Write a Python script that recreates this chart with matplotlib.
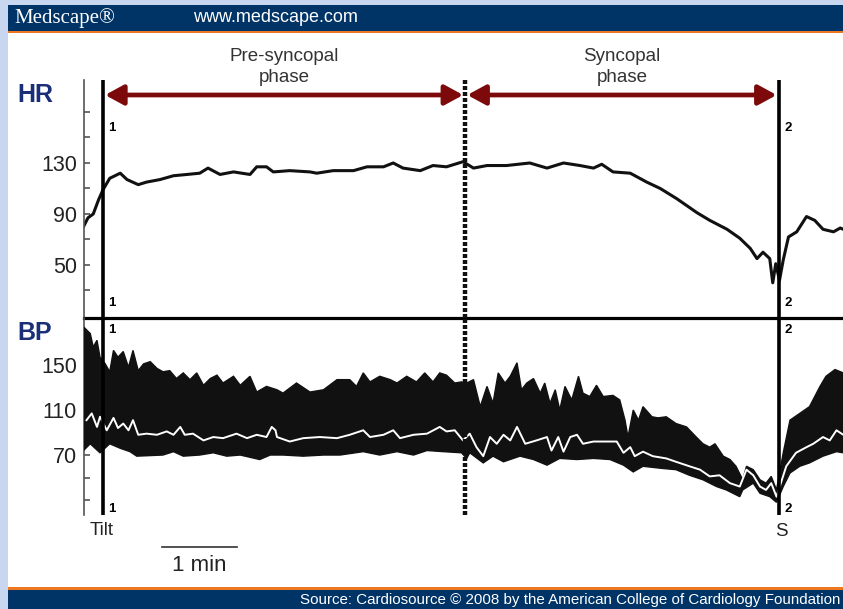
import matplotlib
matplotlib.use('Agg')
import matplotlib.pyplot as plt
import matplotlib.transforms as mtransforms
from matplotlib.patches import Rectangle
import numpy as np

plt.rcParams['font.family'] = ['Liberation Sans', 'DejaVu Sans']

# event times (minutes from tilt)
t_tilt = 0.0
t_phase = 4.83
t_sync = 9.01

# heart rate trace (bpm)
hr_t = [-0.26, -0.20, -0.13, -0.06, 0.00, 0.09, 0.23, 0.32, 0.47, 0.58, 0.76, 0.94, 1.12, 1.29, 1.40,
        1.56, 1.74, 1.96, 2.05, 2.18, 2.27, 2.49, 2.76, 2.85, 3.07, 3.34, 3.52, 3.74, 3.87, 4.00,
        4.23, 4.40, 4.58, 4.80, 4.94, 5.12, 5.38, 5.69, 5.92, 6.14, 6.36, 6.54, 6.65, 6.80, 7.03,
        7.25, 7.43, 7.65, 7.92, 8.09, 8.32, 8.49, 8.63, 8.72, 8.80, 8.89, 8.93, 8.97, 9.02, 9.07,
        9.14, 9.25, 9.38, 9.49, 9.60, 9.74, 9.83, 9.87]
hr_v = [80, 87, 90, 101, 109, 118, 122, 117, 113, 115, 117, 120, 121, 122, 126,
        121, 123, 121, 127, 127, 123, 124, 123, 122, 124, 124, 127, 127, 130, 126,
        124, 128, 127, 131, 126, 128, 128, 130, 126, 130, 128, 126, 129, 123, 122,
        115, 110, 102, 91, 85, 78, 71, 63, 55, 60, 55, 36, 51, 38, 54,
        72, 76, 88, 85, 78, 76, 79, 78]

# blood pressure: systolic envelope (top of black band)
sys_t = [-0.26, -0.17, -0.13, -0.08, -0.04, 0.03, 0.09, 0.14, 0.20, 0.27, 0.34, 0.40, 0.47, 0.54, 0.63,
         0.72, 0.80, 0.89, 0.98, 1.07, 1.16, 1.25, 1.34, 1.43, 1.52, 1.60, 1.74, 1.83, 1.96, 2.05,
         2.18, 2.32, 2.40, 2.58, 2.76, 2.94, 3.12, 3.29, 3.38, 3.47, 3.56, 3.69, 3.83, 3.92, 4.05,
         4.18, 4.29, 4.40, 4.49, 4.58, 4.69, 4.78, 4.85, 4.94, 5.03, 5.12, 5.20, 5.27, 5.36, 5.43,
         5.52, 5.58, 5.65, 5.74, 5.83, 5.89, 5.96, 6.03, 6.09, 6.16, 6.25, 6.34, 6.40, 6.49, 6.58,
         6.67, 6.80, 6.89, 6.96, 7.00, 7.07, 7.14, 7.20, 7.32, 7.40, 7.51, 7.64, 7.78, 7.91, 8.00,
         8.09, 8.16, 8.27, 8.36, 8.44, 8.53, 8.58, 8.67, 8.76, 8.84, 8.91, 8.98, 9.07, 9.16, 9.29,
         9.42, 9.56, 9.64, 9.76, 9.87]
sys_v = [184, 178, 166, 172, 157, 151, 144, 163, 157, 162, 148, 163, 145, 151, 153,
         147, 144, 145, 138, 143, 137, 143, 132, 138, 141, 134, 140, 132, 140, 126,
         131, 128, 125, 134, 126, 128, 137, 137, 131, 143, 135, 140, 137, 134, 140,
         135, 143, 135, 143, 141, 134, 135, 134, 137, 113, 131, 116, 143, 134, 140,
         152, 128, 134, 138, 125, 134, 116, 128, 110, 131, 119, 140, 125, 122, 132,
         122, 123, 119, 101, 86, 110, 101, 113, 104, 103, 104, 98, 95, 86, 80,
         77, 80, 69, 66, 60, 48, 60, 57, 48, 45, 51, 39, 72, 101, 107,
         113, 131, 140, 146, 143]

# diastolic envelope (bottom of black band)
dia_t = [-0.26, -0.17, -0.04, 0.09, 0.23, 0.36, 0.45, 0.80, 0.94, 1.07, 1.29, 1.47, 1.65, 1.83, 2.09,
         2.23, 2.40, 2.67, 2.94, 3.16, 3.47, 3.69, 3.92, 4.14, 4.32, 4.54, 4.78, 4.85, 4.89, 5.07,
         5.20, 5.34, 5.56, 5.74, 5.92, 6.09, 6.32, 6.54, 6.76, 6.94, 7.07, 7.20, 7.47, 7.64, 7.82,
         8.00, 8.18, 8.31, 8.49, 8.53, 8.67, 8.76, 8.89, 8.98, 9.07, 9.16, 9.29, 9.42, 9.60, 9.78,
         9.87]
dia_v = [74, 80, 72, 80, 76, 73, 69, 70, 73, 69, 70, 72, 69, 70, 66,
         70, 70, 69, 70, 70, 73, 70, 73, 70, 74, 73, 72, 67, 72, 63,
         69, 64, 69, 66, 61, 67, 66, 67, 66, 61, 55, 60, 58, 57, 52,
         48, 42, 39, 33, 39, 45, 36, 33, 28, 42, 54, 60, 63, 69, 73,
         72]

# mean pressure (white line)
mean_t = [-0.22, -0.15, -0.08, -0.04, 0.05, 0.14, 0.20, 0.27, 0.34, 0.40, 0.47, 0.58, 0.72, 0.85, 0.94,
          1.03, 1.09, 1.20, 1.34, 1.47, 1.60, 1.78, 1.92, 2.05, 2.18, 2.25, 2.30, 2.32, 2.49, 2.67,
          2.89, 3.12, 3.29, 3.47, 3.56, 3.74, 3.87, 3.96, 4.14, 4.32, 4.49, 4.58, 4.69, 4.80, 4.89,
          4.98, 5.07, 5.16, 5.25, 5.34, 5.43, 5.52, 5.63, 5.78, 5.92, 5.98, 6.07, 6.14, 6.23, 6.32,
          6.40, 6.54, 6.72, 6.85, 6.94, 7.03, 7.09, 7.20, 7.33, 7.51, 7.64, 7.82, 7.96, 8.09, 8.22,
          8.36, 8.49, 8.58, 8.67, 8.76, 8.84, 8.91, 8.98, 9.11, 9.24, 9.38, 9.47, 9.60, 9.69, 9.78,
          9.87]
mean_v = [101, 107, 95, 104, 92, 103, 94, 98, 92, 101, 88, 89, 88, 91, 88,
          95, 88, 89, 83, 86, 85, 89, 85, 88, 86, 95, 92, 86, 82, 85,
          86, 85, 88, 92, 86, 88, 92, 85, 88, 89, 95, 91, 92, 83, 89,
          77, 69, 86, 80, 88, 83, 95, 80, 83, 86, 74, 86, 73, 86, 88,
          80, 82, 82, 82, 72, 77, 69, 73, 69, 67, 64, 60, 57, 51, 52,
          45, 42, 57, 52, 42, 39, 45, 33, 60, 72, 77, 80, 86, 83, 92,
          88]

hr_ticks = [50, 90, 130]
hr_minor = [30, 70, 110, 150, 170]
bp_ticks = [70, 110, 150]
bp_minor = [30, 50, 90, 130, 170]

W, H = 843, 609
navy = '#003366'
orange = '#ee7722'
label_blue = '#1a2f78'
arrow_red = '#7d0a0a'

fig = plt.figure(figsize=(W / 100, H / 100), dpi=100)
fig.patch.set_facecolor('#c8d6ef')


def box(x0, y0, x1, y1, color):
    fig.add_artist(Rectangle((x0 / W, 1 - y1 / H), (x1 - x0) / W, (y1 - y0) / H,
                             transform=fig.transFigure, color=color, lw=0, zorder=0))


box(8, 33, W, 587, 'white')
box(8, 5, W, 31, navy)
box(8, 31, W, 33, orange)
box(8, 587, W, 590, orange)
box(8, 590, W, H, navy)

fig.text(14 / W, 1 - 18 / H, 'Medscape\u00ae', family='Liberation Serif', fontsize=15,
         color='white', va='center', ha='left')
fig.text(193 / W, 1 - 18 / H, 'www.medscape.com', fontsize=13, color='white', va='center', ha='left')
fig.text(840 / W, 1 - 600 / H,
         'Source: Cardiosource \u00a9 2008 by the American College of Cardiology Foundation',
         fontsize=10.9, color='white', va='center', ha='right')

x0, x1 = 84, 843
hr_ax = fig.add_axes([x0 / W, 1 - 318 / H, (x1 - x0) / W, (318 - 80) / H])
bp_ax = fig.add_axes([x0 / W, 1 - 515 / H, (x1 - x0) / W, (515 - 318) / H])

xlim = (-0.2533, 9.8667)
for ax in (hr_ax, bp_ax):
    ax.set_facecolor('none')
    ax.set_xlim(*xlim)
    ax.set_xticks([])
    for s in ('top', 'right'):
        ax.spines[s].set_visible(False)
    ax.spines['left'].set_color('#555555')
    ax.spines['left'].set_linewidth(1.2)
    ax.tick_params(axis='y', which='both', direction='in', length=4.5, width=1.2,
                   color='#555555', labelsize=15.5, labelcolor='#222222', pad=5)

hr_ax.spines['bottom'].set_linewidth(2.3)
hr_ax.spines['bottom'].set_color('black')
bp_ax.spines['bottom'].set_visible(False)

hr_ax.set_ylim(8.4, 195.1)
hr_ax.set_yticks(hr_ticks)
hr_ax.set_yticks(hr_minor, minor=True)
bp_ax.set_ylim(16.7, 191.8)
bp_ax.set_yticks(bp_ticks)
bp_ax.set_yticks(bp_minor, minor=True)

# traces
hr_ax.plot(hr_t, hr_v, color='#111111', lw=2.2, solid_joinstyle='round')
bp_ax.fill(np.concatenate([sys_t, dia_t[::-1]]), np.concatenate([sys_v, dia_v[::-1]]),
           facecolor='#111111', edgecolor='#111111', lw=1.0, zorder=3)
bp_ax.plot(mean_t, mean_v, color='white', lw=1.4, zorder=4)

# event lines
for ax in (hr_ax, bp_ax):
    ax.axvline(t_tilt, color='black', lw=2.6, zorder=5)
    ax.axvline(t_sync, color='black', lw=2.6, zorder=5)
    ax.axvline(t_phase, color='#111111', lw=3.2, ls=(0, (0.9, 0.45)), zorder=5)

hr_tr = mtransforms.blended_transform_factory(hr_ax.transData, hr_ax.transAxes)
bp_tr = mtransforms.blended_transform_factory(bp_ax.transData, bp_ax.transAxes)

# phase arrows
for a, b in ((t_tilt, t_phase), (t_phase, t_sync)):
    hr_ax.annotate('', xy=(b, 0.937), xytext=(a, 0.937), xycoords=hr_tr, textcoords=hr_tr,
                   annotation_clip=False,
                   arrowprops=dict(arrowstyle='<|-|>,head_length=0.55,head_width=0.3',
                                   mutation_scale=20, lw=3.4, color=arrow_red,
                                   shrinkA=1.5, shrinkB=1.5))

hr_ax.text((t_tilt + t_phase) / 2, 1.055, 'Pre-syncopal\nphase', transform=hr_tr, ha='center',
           va='center', fontsize=13.5, color='#333333', linespacing=1.25, clip_on=False)
hr_ax.text((t_phase + t_sync) / 2, 1.055, 'Syncopal\nphase', transform=hr_tr, ha='center',
           va='center', fontsize=13.5, color='#333333', linespacing=1.25, clip_on=False)

# line markers 1 / 2
for t, lab in ((t_tilt, '1'), (t_sync, '2')):
    for ax, tr, fr in ((hr_ax, hr_tr, 0.798), (hr_ax, hr_tr, 0.063), (bp_ax, bp_tr, 0.939), (bp_ax, bp_tr, 0.03)):
        ax.annotate(lab, xy=(t, fr), xycoords=tr, xytext=(4, 0), textcoords='offset points',
                    ha='left', va='center', fontsize=9.5, fontweight='bold', annotation_clip=False)

bp_ax.text(t_tilt - 0.02, -0.081, 'Tilt', transform=bp_tr, ha='center', va='center', fontsize=13.5,
           color='#222222', clip_on=False)
bp_ax.text(t_sync + 0.03, -0.086, 'S', transform=bp_tr, ha='center', va='center', fontsize=13.5,
           color='#222222', clip_on=False)

# 1 min scale bar
bar_start = 0.787
bp_ax.plot([bar_start, bar_start + 1.0], [-0.162, -0.162], transform=bp_tr, color='#333333',
           lw=1.2, clip_on=False)
bp_ax.text(bar_start + 0.5, -0.254, '1 min', transform=bp_tr, ha='center', va='center',
           fontsize=16, color='#222222', clip_on=False)

fig.text(17 / W, 1 - 95 / H, 'HR', fontsize=18, fontweight='bold', color=label_blue,
         ha='left', va='center')
fig.text(17 / W, 1 - 333 / H, 'BP', fontsize=18, fontweight='bold', color=label_blue,
         ha='left', va='center')

fig.savefig('out.png', dpi=100)
